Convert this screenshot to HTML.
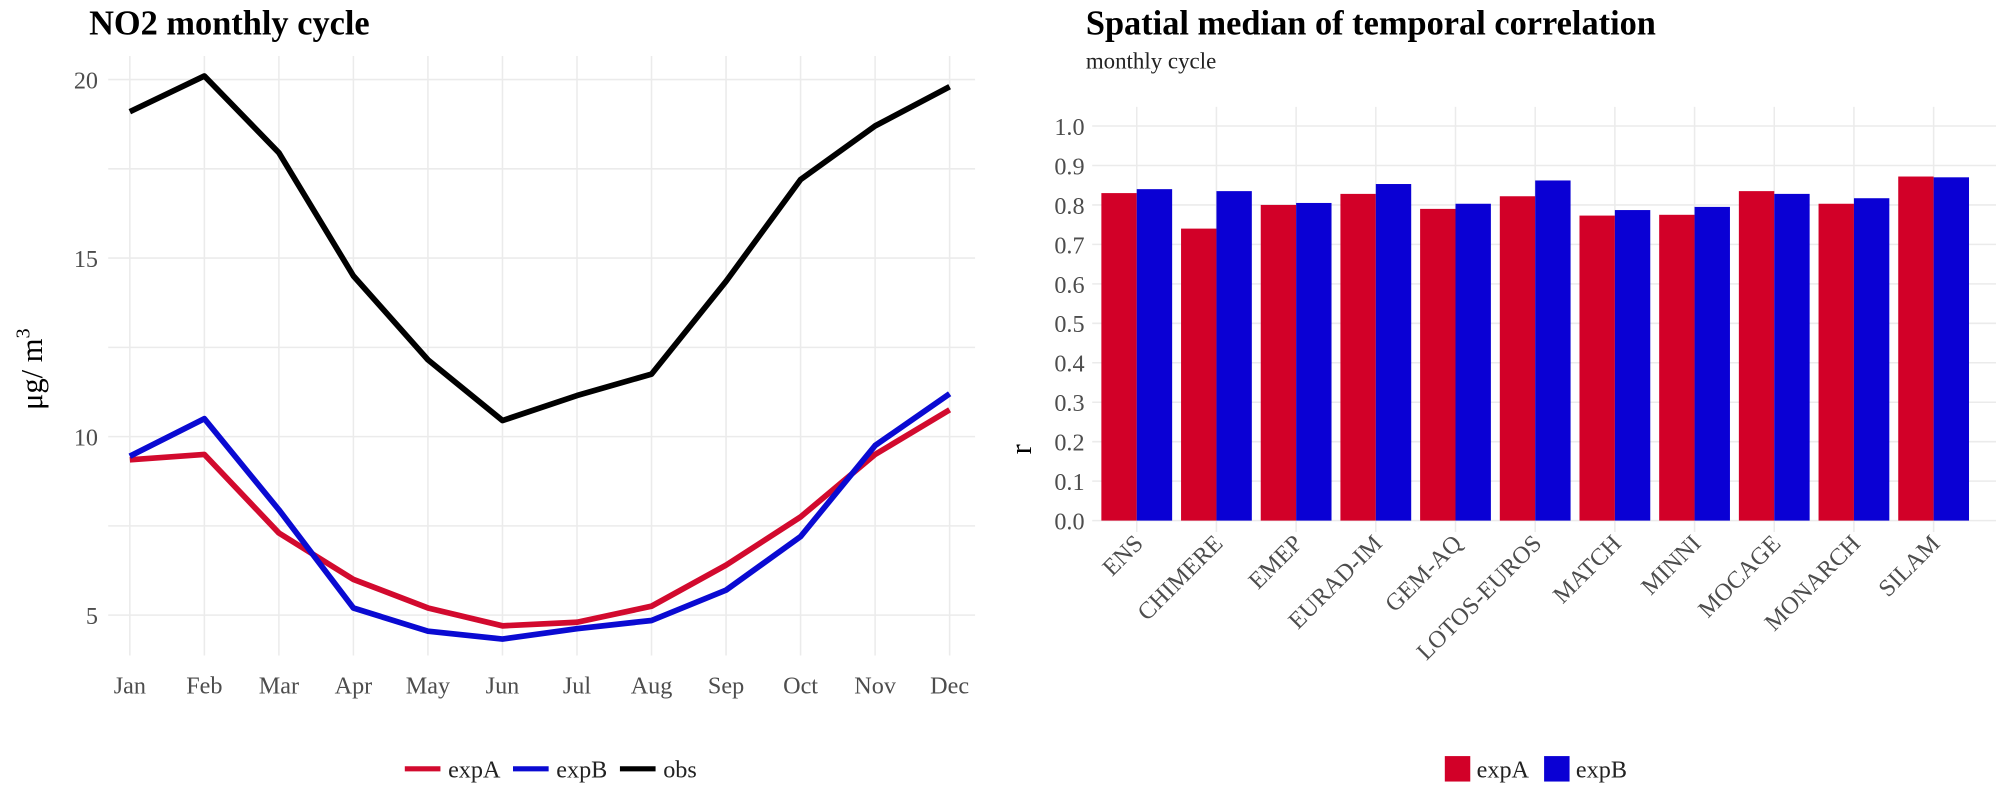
<!DOCTYPE html>
<html><head><meta charset="utf-8">
<style>
html,body{margin:0;padding:0;background:#fff;}
svg{display:block;font-family:"Liberation Serif",serif;}
.tick{fill:#4d4d4d;font-size:19px;}
.grid{stroke:#ebebeb;stroke-width:1.2;}
</style></head>
<body>
<svg id="chart" width="1996" height="786" viewBox="0 0 1568 617.5" preserveAspectRatio="none">
  <text x="70" y="27" font-size="27" font-weight="bold" fill="#000">NO2 monthly cycle</text>
  <text x="853" y="27" font-size="27" font-weight="bold" fill="#000">Spatial median of temporal correlation</text>
  <text x="853" y="54" font-size="18" fill="#222">monthly cycle</text>
  <text transform="translate(33,290) rotate(-90)" text-anchor="middle" font-size="24" fill="#000">μg/ m<tspan dy="-10" font-size="16">3</tspan></text>
  <text transform="translate(810,353) rotate(-90)" text-anchor="middle" font-size="24" fill="#000">r</text>
  <g id="left"></g>
  <g id="right"></g>
  <g id="legends">
    <line x1="318" y1="604" x2="346" y2="604" stroke="#d20a2e" stroke-width="4"/>
    <text x="352" y="611" font-size="19" fill="#222">expA</text>
    <line x1="403" y1="604" x2="431" y2="604" stroke="#0a0ad2" stroke-width="4"/>
    <text x="437" y="611" font-size="19" fill="#222">expB</text>
    <line x1="487" y1="604" x2="515" y2="604" stroke="#000" stroke-width="4"/>
    <text x="521" y="611" font-size="19" fill="#222">obs</text>
    <rect x="1135" y="594" width="20" height="20" fill="#d20028"/>
    <text x="1160" y="611" font-size="19" fill="#222">expA</text>
    <rect x="1213" y="594" width="20" height="20" fill="#0a00d4"/>
    <text x="1238" y="611" font-size="19" fill="#222">expB</text>
  </g>
</svg>
<script>
const months = ["Jan","Feb","Mar","Apr","May","Jun","Jul","Aug","Sep","Oct","Nov","Dec"];
const obs  = [19.1,20.1,17.95,14.5,12.15,10.45,11.15,11.75,14.35,17.2,18.7,19.8];
const expA = [9.35,9.5,7.3,6.0,5.2,4.7,4.8,5.25,6.4,7.75,9.5,10.75];
const expB = [9.45,10.5,7.95,5.2,4.55,4.33,4.62,4.85,5.7,7.2,9.75,11.2];
const leftTicks = [5,10,15,20];

const models = ["ENS","CHIMERE","EMEP","EURAD-IM","GEM-AQ","LOTOS-EUROS","MATCH","MINNI","MOCAGE","MONARCH","SILAM"];
const corrA = [0.83,0.74,0.80,0.828,0.79,0.822,0.773,0.775,0.835,0.803,0.872];
const corrB = [0.84,0.835,0.805,0.853,0.803,0.862,0.787,0.795,0.828,0.817,0.870];
const rightTicks = [0.0,0.1,0.2,0.3,0.4,0.5,0.6,0.7,0.8,0.9,1.0];

const NS="http://www.w3.org/2000/svg";
function mk(tag,attrs,parent){const e=document.createElementNS(NS,tag);for(const k in attrs)e.setAttribute(k,attrs[k]);parent.appendChild(e);return e;}

// left chart
const L=document.getElementById('left');
const lx=i=>102+i*(746-102)/11;
const ly=v=>343-(v-10)*28.05;
for(let v=5;v<=20;v+=2.5){const g=mk('line',{x1:85,x2:766,y1:ly(v),y2:ly(v),class:'grid'},L);

}
months.forEach((m,i)=>{const g=mk('line',{x1:lx(i),x2:lx(i),y1:44,y2:515,class:'grid'},L);


const t=mk('text',{x:lx(i),y:545,'text-anchor':'middle',class:'tick'},L);t.textContent=m;

});
leftTicks.forEach(v=>{const t=mk('text',{x:77,y:ly(v)+7,'text-anchor':'end',class:'tick'},L);t.textContent=v;

});
[[expA,'#d20a2e','expA'],[expB,'#0a0ad2','expB'],[obs,'#000','obs']].forEach(([d,c,n])=>{
const p=mk('polyline',{points:d.map((v,i)=>lx(i)+','+ly(v)).join(' '),fill:'none',stroke:c,'stroke-width':4.5,'stroke-linejoin':'round'},L);

});

// right chart
const R=document.getElementById('right');
const step=(1519-893)/10;
const rx=i=>893+i*step;
const ry=v=>409-v*310;
const bw=27.8;
rightTicks.forEach(v=>{const g=mk('line',{x1:858,x2:1568,y1:ry(v),y2:ry(v),class:'grid'},R);


const t=mk('text',{x:852,y:ry(v)+7,'text-anchor':'end',class:'tick'},R);t.textContent=v.toFixed(1);

});
models.forEach((m,i)=>{const g=mk('line',{x1:rx(i),x2:rx(i),y1:84,y2:418,class:'grid'},R);

});
models.forEach((m,i)=>{
const a=mk('rect',{x:rx(i)-bw,y:ry(corrA[i]),width:bw,height:ry(0)-ry(corrA[i]),fill:'#d20028'},R);


const b=mk('rect',{x:rx(i),y:ry(corrB[i]),width:bw,height:ry(0)-ry(corrB[i]),fill:'#0a00d4'},R);


const t=mk('text',{transform:`translate(${rx(i)+6},${428}) rotate(-45)`,'text-anchor':'end',class:'tick'},R);t.textContent=m;

});
</script>
</body></html>
